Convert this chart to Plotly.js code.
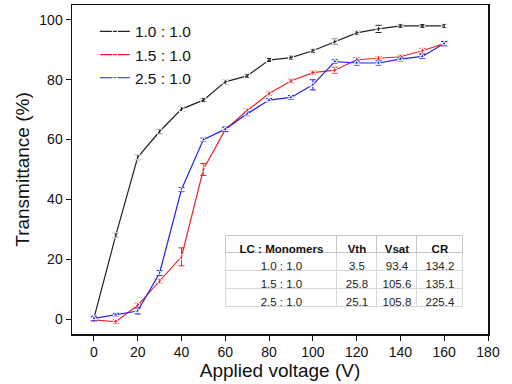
<!DOCTYPE html>
<html><head><meta charset="utf-8">
<script src="https://cdn.plot.ly/plotly-3.0.1.min.js"></script>
<style>html,body{margin:0;padding:0;background:#fff}#c{width:512px;height:384px}</style>
</head><body><div id="c"></div>
<script>
const voltage = [0,10,20,30,40,50,60,70,80,90,100,110,120,130,140,150,160];
const t10 = [0.2,28,54.1,62.7,70.2,73.2,79.3,81.3,86.6,87.4,89.7,92.8,95.7,97,98,98,98];
const e10 = [0.7,0.7,0.8,0.7,0.8,0.5,0.8,0.6,0.5,0.6,0.6,0.9,0.7,1.2,0.6,0.5,0.6];
const t15 = [-0.3,-0.9,4.6,12.7,20.8,50,63.3,69.7,75.4,79.6,82.4,83.2,86.7,87.2,87.7,89.7,92.1];
const e15 = [0.6,0.6,0.7,0.6,3,2,0.7,0.6,0.6,0.6,0.6,1,0.7,0.6,0.6,0.8,0.7];
const t25 = [0.2,1.4,2.7,15.4,43.3,60,63.5,68.6,73.2,74.1,78.3,86.1,85.6,85.6,86.9,87.8,92.1];
const e25 = [0.7,0.5,1,0.8,0.7,0.5,0.7,0.6,0.5,0.6,1.7,0.6,0.7,0.7,0.6,0.7,0.7];
const seriesNames = ["1.0 : 1.0","1.5 : 1.0","2.5 : 1.0"];
const tableHeader = ["LC : Monomers","Vth","Vsat","CR"];
const tableRatio = ["1.0 : 1.0","1.5 : 1.0","2.5 : 1.0"];
const tableVth = ["3.5","25.8","25.1"];
const tableVsat = ["93.4","105.6","105.8"];
const tableCR = ["134.2","135.1","225.4"];

function series(y, e, name, color, symbol){
  return {x: voltage, y: y, name: name, type:'scatter', mode:'lines+markers',
    line:{color:color, width:1.2},
    marker:{symbol:symbol, size:5, color:'white', line:{color:color, width:1}},
    error_y:{type:'data', array:e, visible:true, color:color, thickness:1, width:3},
    xaxis:'x', yaxis:'y'};
}
const data = [
  series(t10,e10,seriesNames[0],'#222222','square-open'),
  series(t15,e15,seriesNames[1],'#ee2222','circle-open'),
  series(t25,e25,seriesNames[2],'#2222ee','triangle-up-open'),
  {type:'table', domain:{x:[0.370,0.940], y:[0.076,0.298]},
   columnwidth:[111,40,40,46],
   header:{values:tableHeader, align:'center', height:17,
     font:{family:'Liberation Sans, Arial', size:11.5, color:'#111', weight:'bold'},
     fill:{color:'white'}, line:{color:'#c8c8c8', width:1}},
   cells:{values:[tableRatio,tableVth,tableVsat,tableCR], align:'center', height:18,
     font:{family:'Liberation Sans, Arial', size:11.5, color:'#222'},
     fill:{color:'white'}, line:{color:'#d8d8d8', width:1}}}
];
const layout = {
  width:512, height:384,
  margin:{l:72, r:24, t:5, b:50},
  paper_bgcolor:'white', plot_bgcolor:'white',
  font:{family:'Liberation Sans, Arial', color:'#111'},
  showlegend:true,
  legend:{x:0.055, y:0.97, xanchor:'left', yanchor:'top', bgcolor:'rgba(0,0,0,0)',
    font:{size:15.5, family:'Liberation Sans, Arial', color:'#111'}, tracegroupgap:0},
  xaxis:{range:[-10,180], tickvals:[0,20,40,60,80,100,120,140,160,180],
    showgrid:false, zeroline:false, showline:true, linecolor:'#111', linewidth:1.5,
    mirror:true, ticks:'outside', ticklen:5, tickwidth:1, tickcolor:'#111',
    tickfont:{size:14}, title:{text:'Applied voltage (V)', font:{size:19}, standoff:2}},
  yaxis:{range:[-5,105], tickvals:[0,20,40,60,80,100],
    showgrid:false, zeroline:false, showline:true, linecolor:'#111', linewidth:1.5,
    mirror:true, ticks:'outside', ticklen:5, tickwidth:1, tickcolor:'#111',
    tickfont:{size:14}, title:{text:'Transmittance (%)', font:{size:19}, standoff:4}}
};
Plotly.newPlot('c', data, layout, {staticPlot:true});
</script></body></html>
